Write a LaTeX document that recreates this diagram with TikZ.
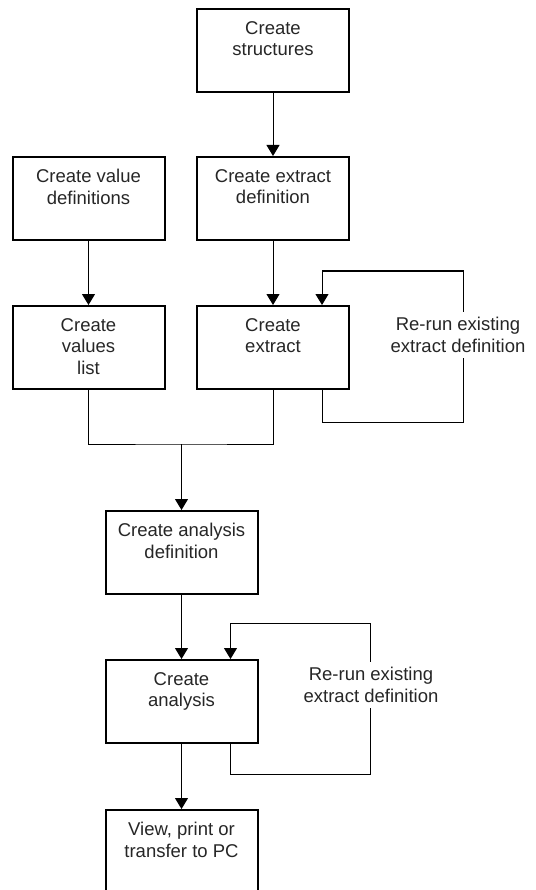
\documentclass[tikz,border=0pt]{standalone}
\usepackage{fontspec}
\setmainfont{Liberation Sans}
\usetikzlibrary{arrows.meta}

\tikzset{
  stepbox/.style={draw, line width=2pt, minimum width=152pt, minimum height=83pt, inner sep=0pt, anchor=north},
  steptext/.style={anchor=north, align=center, inner sep=0pt, yshift=-13pt, text=black!85, font=\fontsize{18.5}{21.5}\selectfont},
  flow/.style={line width=1pt, -{Triangle[width=13pt,length=11pt]}},
  link/.style={line width=1pt},
  note/.style={fill=white, align=center, inner xsep=2pt, inner ysep=5pt, text=black!85, font=\fontsize{18.5}{21.5}\selectfont},
}

\begin{document}
\begin{tikzpicture}[x=1pt,y=-1pt]
		\useasboundingbox (0,0) rectangle (535,890);
		\node[stepbox, label={[steptext]north:Create\\structures}] (struct) at (273,8) {};
		\node[stepbox, label={[steptext]north:Create value\\definitions}] (valdef) at (88.5,156) {};
		\node[stepbox, label={[steptext]north:Create extract\\definition}] (exdef) at (273,156) {};
		\node[stepbox, label={[steptext]north:Create\\values\\list}] (vlist) at (88.5,305) {};
		\node[stepbox, label={[steptext]north:Create\\extract}] (extract) at (273,305) {};
		\node[stepbox, label={[steptext]north:Create analysis\\definition}] (anadef) at (181.5,510) {};
		\node[stepbox, label={[steptext]north:Create\\analysis}] (analysis) at (181.5,659) {};
		\node[stepbox, label={[steptext]north:{View, print or\\transfer to PC}}] (view) at (181.5,809) {};
		\coordinate (merge) at (181.5,444);
		\coordinate (loopAbot) at (463,422);
		\coordinate (loopAtop) at (463,271);
		\coordinate (loopBbot) at (370,774);
		\coordinate (loopBtop) at (370,623);
		\draw[flow] (struct) -- (exdef);
		\draw[flow] (valdef) -- (vlist);
		\draw[flow] (exdef) -- (extract);
		\draw[link] (vlist.south) |- (merge) -| (extract.south);
		\draw[flow] (merge) -- (anadef);
		\draw[flow] (anadef) -- (analysis);
		\draw[flow] (analysis) -- (view);
		% re-run loops
		\draw[flow] ([xshift=49pt]extract.south) |- (loopAbot) -- (loopAtop) -| ([xshift=49pt]extract.north);
		\draw[flow] ([xshift=49pt]analysis.south) |- (loopBbot) -- (loopBtop) -| ([xshift=49pt]analysis.north);
		\node[note] (rerunA) at (458,335) {Re-run existing\\extract definition};
		\node[note] (rerunB) at (371,685) {Re-run existing\\extract definition};
\end{tikzpicture}
\end{document}
